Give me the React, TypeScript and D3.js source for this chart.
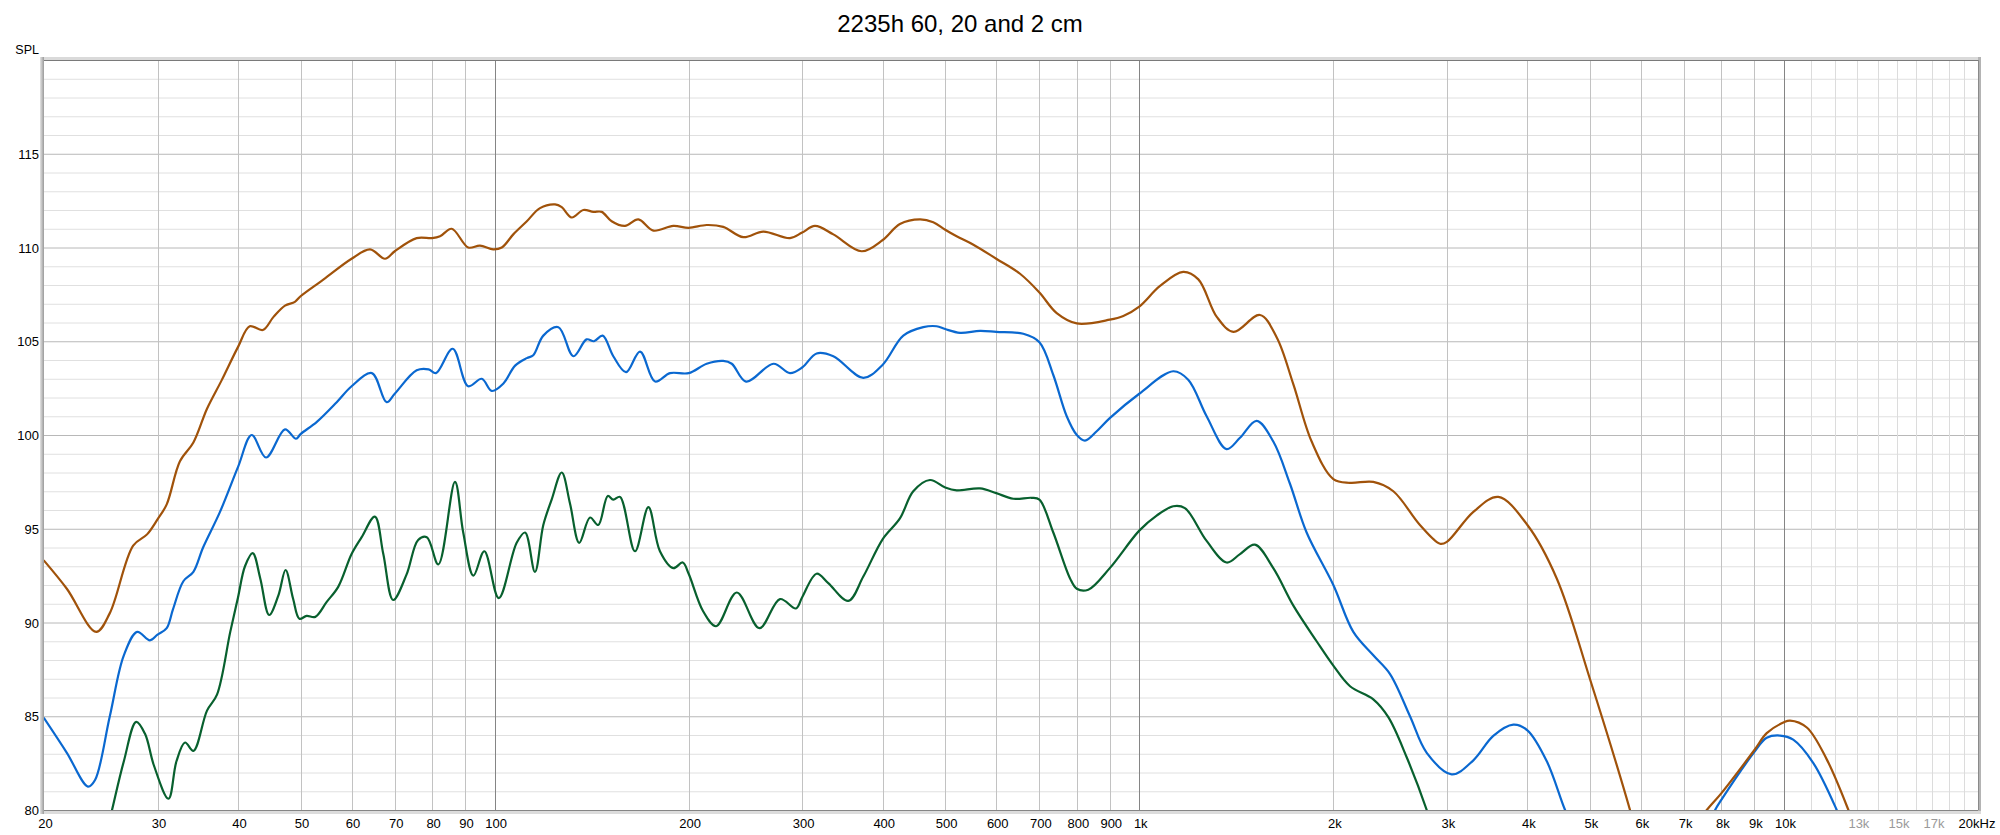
import React from "react";
import * as d3 from "d3";

// ---------------- data ----------------
const titleText = "2235h 60, 20 and 2 cm";
const yAxisLabel = "SPL";

const yTickValues = [80, 85, 90, 95, 100, 105, 110, 115];
const xTickValues = [20, 30, 40, 50, 60, 70, 80, 90, 100, 200, 300, 400, 500, 600, 700, 800, 900,
  1000, 2000, 3000, 4000, 5000, 6000, 7000, 8000, 9000, 10000, 13000, 15000, 17000, 20000];
const xTickLabels = ["20", "30", "40", "50", "60", "70", "80", "90", "100", "200", "300", "400", "500", "600", "700", "800", "900",
  "1k", "2k", "3k", "4k", "5k", "6k", "7k", "8k", "9k", "10k", "13k", "15k", "17k", "20kHz"];
const xTickGrey = ["13k", "15k", "17k"];

// Brown curve (top)
const brownHz = [20, 21.7, 24.1, 25.3, 27.5, 28.9, 30, 31, 32.5, 34.1, 35.8, 37.7, 40, 41.7, 43.7, 45.4, 47.3, 49, 50, 54.3,
  60, 64.1, 67.6, 70, 75.7, 80, 82.3, 85.8, 91, 94.9, 99.5, 102.6, 106.9, 112.2, 117.6, 124.1, 127.1, 131.7, 137.3, 142.3,
  146.6, 151.9, 159.3, 167.1, 176.3, 189.3, 200, 213.3, 226.3, 243.1, 261.1, 287.2, 300, 314, 335.3, 371, 400, 425.3,
  456.9, 479.1, 500, 520.8, 553, 600, 653.2, 700, 744.6, 800, 900, 944.6, 1000, 1077, 1170, 1235, 1319, 1400, 1539,
  1634, 1734, 1851, 2000, 2123, 2307, 2478, 2725, 2928, 3000, 3298, 3605, 4000, 4442, 5000, 5771, 5950];
const brownDb = [93.3, 91.8, 89.5, 90.5, 94.1, 94.7, 95.5, 96.3, 98.6, 99.6, 101.4, 102.9, 104.7, 105.8, 105.6, 106.3, 106.9, 107.1, 107.4, 108.3,
  109.4, 109.9, 109.4, 109.8, 110.5, 110.5, 110.6, 111.0, 110.0, 110.1, 109.9, 110.0, 110.7, 111.4, 112.1, 112.3, 112.15, 111.6, 112.0, 111.9,
  111.9, 111.4, 111.15, 111.5, 110.9, 111.15, 111.05, 111.2, 111.1, 110.55, 110.85, 110.5, 110.8, 111.15, 110.7, 109.8, 110.4, 111.25,
  111.5, 111.35, 110.95, 110.6, 110.15, 109.4, 108.6, 107.6, 106.5, 105.95, 106.15, 106.35, 106.85, 107.95, 108.7, 108.3, 106.3, 105.5, 106.4,
  105.2, 102.7, 99.65, 97.65, 97.45, 97.5, 97.0, 95.2, 94.2, 94.3, 95.9, 96.7, 95.2, 92.35, 87.0, 80.0, 78.3];
const brownHumpHz = [7350, 7592, 8000, 9000, 9403, 10000, 10221, 10851, 11652, 12590, 12900];
const brownHumpDb = [79.3, 80.0, 80.9, 83.2, 84.1, 84.68, 84.77, 84.4, 82.7, 80.0, 79.0];

// Blue curve (middle)
const blueHz = [20, 21.7, 23.4, 24, 25.3, 26.6, 27.9, 29.2, 30, 31, 31.7, 32.9, 34.1, 35.3, 37.5, 40, 42, 44.2, 47.3, 49.2,
  50, 53, 56.9, 60, 64.5, 68, 70, 75.7, 79, 81.1, 86.1, 91, 95.5, 99, 103.2, 107.6, 112.2, 114.8, 119, 125.6, 132.5,
  138.9, 142.6, 147.1, 152.8, 159.9, 168.1, 177.4, 187.1, 200, 213.3, 226.3, 233.3, 245.5, 270.8, 287.2, 300, 315.9,
  335.3, 373.2, 400, 430.5, 462.3, 484.9, 500, 527.1, 566.2, 600, 660.9, 700, 735.6, 771.7, 800, 823.8, 859, 900, 1000,
  1129, 1191, 1272, 1366, 1433, 1521, 1614, 1713, 1818, 2000, 2148, 2307, 2449, 2630, 2792, 3052, 3298, 3541, 3803,
  4000, 4287, 4576, 4750];
const blueDb = [84.9, 83.05, 81.25, 81.6, 85.0, 88.25, 89.5, 89.05, 89.35, 89.7, 90.7, 92.2, 92.7, 94.0, 95.9, 98.3, 100.0, 98.8, 100.3, 99.8,
  100.05, 100.7, 101.75, 102.6, 103.3, 101.75, 102.2, 103.45, 103.5, 103.3, 104.6, 102.6, 103.0, 102.35, 102.75, 103.7, 104.1, 104.25, 105.3, 105.75, 104.2,
  105.1, 105.0, 105.3, 104.2, 103.35, 104.45, 102.85, 103.3, 103.3, 103.8, 103.95, 103.8, 102.85, 103.8, 103.3, 103.6, 104.35,
  104.2, 103.05, 103.75, 105.3, 105.75, 105.8, 105.65, 105.45, 105.55, 105.5, 105.4, 104.95, 103.2, 101.0, 100.0, 99.7, 100.2, 100.9, 102.2,
  103.4, 102.95, 101.0, 99.25, 99.85, 100.75, 99.65, 97.4, 94.8, 92.0, 89.5, 88.25, 87.25, 85.0, 83.05, 81.9, 82.65, 83.95, 84.55,
  84.25, 82.6, 80.0, 78.8];
const blueHumpHz = [7600, 7821, 8000, 9000, 9403, 9860, 10337, 11107, 12075, 12400];
const blueHumpDb = [79.0, 80.0, 80.55, 83.1, 83.85, 83.97, 83.75, 82.5, 80.0, 79.0];

// Green curve (bottom)
const greenHz = [24.9, 25.5, 26.6, 27.8, 28.7, 29.6, 31.2, 32.1, 33.1, 34.1, 35.8, 37.1, 38.9, 40, 41, 42.15, 43.3, 44.7,
  46.2, 47.4, 48.7, 49.8, 51.1, 52.7, 54.9, 57.2, 60, 62.2, 65.2, 67.2, 69.6, 73, 76.1, 78.5, 81.8, 86.8, 89.4, 92.7,
  96.4, 101.5, 108.2, 111.5, 115.5, 119, 122.6, 127.1, 130.9, 135.3, 140.6, 144.8, 149.8, 152.8, 156.5, 165.1, 173.2,
  180.5, 189.3, 195.8, 200, 210.6, 220.6, 237.5, 257.5, 277.1, 293.4, 300, 315.9, 329.3, 353.7, 373.2, 400, 425.3,
  446.1, 473.5, 500, 520.8, 566.2, 600, 637.6, 680.9, 700, 735.6, 781, 800, 833.5, 900, 1000, 1064, 1129, 1177, 1272,
  1366, 1433, 1511, 1614, 1734, 1884, 2000, 2123, 2307, 2434, 2600, 2792, 2850];
const greenDb = [78.5, 80.0, 82.6, 84.7, 84.05, 82.4, 80.6, 82.6, 83.6, 83.15, 85.3, 86.15, 89.5, 91.35, 93.0, 93.7, 92.35, 90.4,
  91.45, 92.8, 91.25, 90.2, 90.35, 90.3, 91.1, 91.9, 93.65, 94.55, 95.65, 93.65, 91.2, 92.55, 94.4, 94.55, 93.1, 97.5, 94.8, 92.5,
  93.8, 91.3, 94.25, 94.8, 92.7, 95.2, 96.55, 98.0, 96.35, 94.25, 95.6, 95.2, 96.75, 96.55, 96.7, 93.8, 96.15,
  93.8, 92.9, 93.2, 92.6, 90.6, 89.8, 91.6, 89.7, 91.25, 90.75, 91.35, 92.6, 92.1, 91.15, 92.45, 94.45, 95.55,
  97.0, 97.6, 97.2, 97.05, 97.15, 96.9, 96.6, 96.65, 96.55, 94.8, 92.35, 91.8, 91.75, 92.9, 94.9, 95.7, 96.2, 96.1, 94.35,
  93.2, 93.65, 94.15, 92.9, 90.9, 89.0, 87.7, 86.6, 85.9, 84.95, 82.8, 80.0, 79.0];

const brownColor = "#a0520a";
const blueColor = "#0a68d0";
const greenColor = "#08602e";

// ---------------- layout ----------------
const W = 2000;
const H = 835;
const L = 44;
const R = 1978;
const T = 60;
const B = 810;
const FONT = "'Liberation Sans', Arial, Helvetica, sans-serif";

const x = d3.scaleLog().domain([20, 20000]).range([L, R]);
const y = d3.scaleLinear().domain([80, 120]).range([B, T]);

const lineGen = d3
  .line<[number, number]>()
  .x((d) => x(d[0]))
  .y((d) => y(d[1]))
  .curve(d3.curveCatmullRom.alpha(0.5));

function zipSeries(hz: number[], db: number[]): [number, number][] {
  return hz.map((h, i) => [h, db[i]] as [number, number]);
}

const vGrid: { v: number; kind: string }[] = [];
[10, 100, 1000].forEach((base) => {
  for (let m = 1; m <= 9; m++) {
    const v = base * m;
    if (v > 20 && v < 20000) vGrid.push({ v, kind: m === 1 ? "decade" : "normal" });
  }
});
vGrid.push({ v: 10000, kind: "decade" });
for (let k = 11; k <= 19; k++) vGrid.push({ v: k * 1000, kind: "light" });

const hGrid: number[] = d3.range(81, 120, 1);

export default function App() {
  const series = [
    { color: greenColor, segs: [zipSeries(greenHz, greenDb)] },
    { color: blueColor, segs: [zipSeries(blueHz, blueDb), zipSeries(blueHumpHz, blueHumpDb)] },
    { color: brownColor, segs: [zipSeries(brownHz, brownDb), zipSeries(brownHumpHz, brownHumpDb)] },
  ];
  return (
    <svg
      width={W}
      height={H}
      style={{ position: "absolute", left: 0, top: 0, display: "block", background: "#fff" }}
      fontFamily={FONT}
    >
      <rect x={0} y={0} width={W} height={H} fill="#ffffff" />
      <defs>
        <clipPath id="plotClip">
          <rect x={L} y={T} width={R - L} height={B - T} />
        </clipPath>
        <linearGradient id="leftEdge" x1="0" x2="1" y1="0" y2="0">
          <stop offset="0" stopColor="#e4e4e4" />
          <stop offset="1" stopColor="#9a9a9a" />
        </linearGradient>
      </defs>

      <text x={960} y={32} textAnchor="middle" fontSize={24} fill="#000">
        {titleText}
      </text>

      {/* horizontal grid */}
      {hGrid.map((v) => (
        <line
          key={"h" + v}
          x1={L}
          x2={R}
          y1={y(v) + 0.5}
          y2={y(v) + 0.5}
          stroke={v % 5 === 0 ? "#b8b8b8" : "#e0e0e0"}
          strokeWidth={1}
        />
      ))}
      {/* vertical grid */}
      {vGrid.map((g) => (
        <line
          key={"v" + g.v}
          x1={Math.round(x(g.v)) + 0.5}
          x2={Math.round(x(g.v)) + 0.5}
          y1={T}
          y2={B}
          stroke={g.kind === "decade" ? "#858585" : g.kind === "light" ? "#dcdcdc" : "#c2c2c2"}
          strokeWidth={1}
        />
      ))}

      {/* frame */}
      <rect x={L} y={T - 3} width={R - L + 3} height={3} fill="#dadada" />
      <line x1={L} x2={R} y1={T + 0.5} y2={T + 0.5} stroke="#7a7a7a" strokeWidth={1} />
      <rect x={L - 4} y={T - 3} width={4} height={B - T + 7} fill="url(#leftEdge)" />
      <rect x={R} y={T - 3} width={3} height={B - T + 7} fill="#b4b4b4" />
      <line x1={R + 0.5} x2={R + 0.5} y1={T} y2={B} stroke="#8a8a8a" strokeWidth={1} />
      <rect x={L} y={B + 1} width={R - L + 3} height={3} fill="#dcdcdc" />
      <line x1={L} x2={R} y1={B + 0.5} y2={B + 0.5} stroke="#858585" strokeWidth={1} />

      {/* curves */}
      <g clipPath="url(#plotClip)">
        {series.map((s, i) =>
          s.segs.map((seg, j) => (
            <path
              key={"s" + i + "-" + j}
              d={lineGen(seg) || ""}
              fill="none"
              stroke={s.color}
              strokeWidth={2.2}
              strokeLinejoin="round"
              strokeLinecap="round"
            />
          ))
        )}
      </g>

      {/* y labels */}
      <text x={39} y={54} textAnchor="end" fontSize={12.5} fill="#000">
        {yAxisLabel}
      </text>
      {yTickValues.map((v) => (
        <text key={"yl" + v} x={39} y={y(v) + 5} textAnchor="end" fontSize={13} fill="#000">
          {v}
        </text>
      ))}

      {/* x labels */}
      {xTickValues.map((v, i) => {
        const lab = xTickLabels[i];
        const grey = xTickGrey.includes(lab);
        let px = x(v) + 1.5;
        if (i === xTickValues.length - 1) px = x(v) - 1;
        return (
          <text
            key={"xl" + v}
            x={px}
            y={827.5}
            textAnchor="middle"
            fontSize={13}
            fill={grey ? "#9a9a9a" : "#000"}
          >
            {lab}
          </text>
        );
      })}
    </svg>
  );
}
